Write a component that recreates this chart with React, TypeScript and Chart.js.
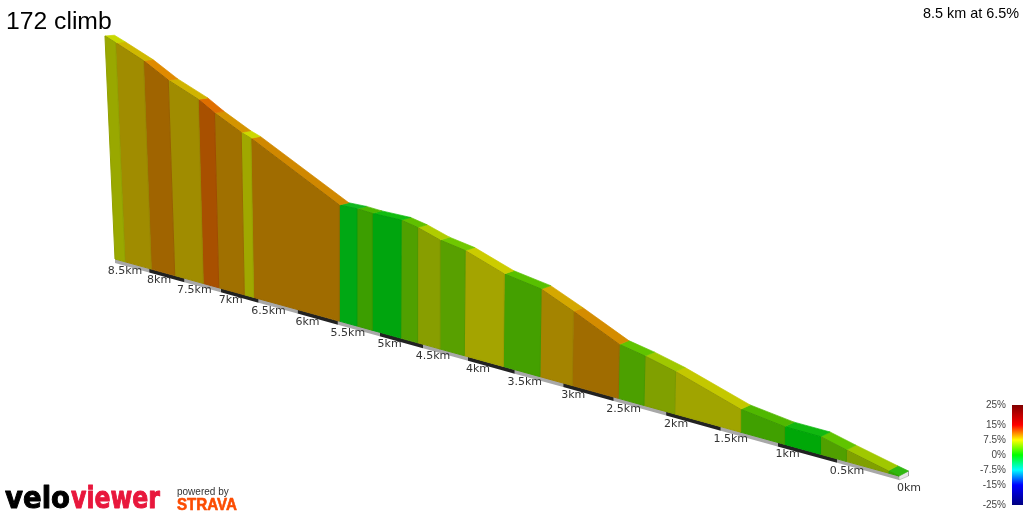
import React, { useEffect, useRef } from "react";
import { Chart, registerables } from "chart.js";

Chart.register(...registerables);

// Profile: distance from the finish (km) and elevation above the start (m)
const profileKm = [8.5, 8.352, 7.968, 7.635, 7.238, 7.028, 6.686, 6.563, 5.482, 5.272, 5.09, 4.755, 4.568, 4.317, 4.04, 3.62, 3.237, 2.908, 2.455, 2.208, 1.92, 1.328, 0.945, 0.641, 0.426, 0.087, 0];
const profileElevation = [554, 542, 509, 472, 439, 414, 380, 371, 260.5, 261, 258.5, 258, 250, 234, 224, 194, 181, 151.5, 108, 98, 83, 43.5, 33, 32.5, 21, 4, 0];
const frontColors = ["#99a800", "#a08c00", "#a06400", "#a08c00", "#a85000", "#a07000", "#a0a800", "#a06c00", "#00a814", "#3c9e00", "#00a50e", "#50a000", "#889e00", "#58a000", "#a4a400", "#44a000", "#a48400", "#a06c00", "#4ca000", "#80a000", "#a0a400", "#40a000", "#00a808", "#50a000", "#80a000", "#30a800"];
const topColors = ["#c8d800", "#cfb800", "#e08a00", "#d0b400", "#e06e00", "#d49400", "#cdd800", "#d08800", "#10b820", "#4cb800", "#10bc10", "#60c000", "#b0cc00", "#70c800", "#cccc00", "#58c000", "#d4a800", "#d48c00", "#60c400", "#a0c800", "#c4c800", "#50b800", "#10b810", "#60c400", "#a0c800", "#30b810"];

const tickKm = [8.5, 8, 7.5, 7, 6.5, 6, 5.5, 5, 4.5, 4, 3.5, 3, 2.5, 2, 1.5, 1, 0.5, 0];
const tickLabels = ["8.5km", "8km", "7.5km", "7km", "6.5km", "6km", "5.5km", "5km", "4.5km", "4km", "3.5km", "3km", "2.5km", "2km", "1.5km", "1km", "0.5km", "0km"];

const legendTicks = [25, 15, 7.5, 0, -7.5, -15, -25];
const legendLabels = ["25%", "15%", "7.5%", "0%", "-7.5%", "-15%", "-25%"];
const legendStops = ["#800000", "#ff0000", "#ffff00", "#00ff00", "#00ffff", "#0000ff", "#000080"];
const legendStopValues = [25, 15, 7.5, 0, -7.5, -15, -25];

const chartTitle = "172 climb";
const chartSummary = "8.5 km at 6.5%";

// Oblique perspective of the 3D ribbon
const DEPTH = 0.04396;
const BAND = 4;
const baseX = (km: number) => (899 - 87.18 * km) / (1 + DEPTH * km);
const baseY = (km: number) => (476 - 14.14 * km) / (1 + DEPTH * km);
const front = (km: number, m: number) => {
  const bx = baseX(km);
  const h = (m * 0.553) / (1 + DEPTH * km);
  const lean = (bx - 340) / (bx < 340 ? 5000 : 15000);
  return { x: bx + h * lean, y: baseY(km) - h };
};
const back = (km: number, m: number) => {
  const p = front(km, m);
  return { x: p.x + 9.5, y: p.y - (5 - 0.5 * km) };
};
const legendY = (v: number) => 455 - v * 2;
const shade = (hex: string, f: number) => {
  const n = parseInt(hex.slice(1), 16);
  return `rgb(${Math.round((n >> 16) * f)},${Math.round(((n >> 8) & 255) * f)},${Math.round((n & 255) * f)})`;
};

const poly = (points: { x: number; y: number }[], color: any, edge = "transparent", width = 0) => ({
  data: points,
  showLine: true,
  fill: "shape",
  backgroundColor: color,
  borderColor: edge,
  borderWidth: width,
  pointRadius: 0,
  tension: 0,
});

const textPlugin = {
  id: "chartText",
  afterDatasetsDraw(chart: any) {
    const { ctx, scales } = chart;
    const X = scales.x;
    const Y = scales.y;
    ctx.save();
    ctx.textBaseline = "alphabetic";
    ctx.fillStyle = "#000";
    ctx.textAlign = "left";
    ctx.font = '24.7px "Liberation Sans"';
    ctx.fillText(chartTitle, X.getPixelForValue(6), Y.getPixelForValue(29));
    ctx.textAlign = "right";
    ctx.font = '14.4px "Liberation Sans"';
    ctx.fillText(chartSummary, X.getPixelForValue(1019), Y.getPixelForValue(18));

    ctx.textAlign = "center";
    ctx.fillStyle = "#333";
    ctx.font = '11px "DejaVu Sans"';
    tickKm.forEach((km, i) => {
      ctx.fillText(tickLabels[i], X.getPixelForValue(baseX(km) + 10), Y.getPixelForValue(baseY(km) + 15));
    });

    ctx.textAlign = "right";
    ctx.fillStyle = "#444";
    ctx.font = '10px "Liberation Sans"';
    legendTicks.forEach((v, i) => {
      ctx.fillText(legendLabels[i], X.getPixelForValue(1006), Y.getPixelForValue(legendY(v) + 3));
    });

    ctx.textAlign = "left";
    ctx.lineJoin = "round";
    ctx.font = 'bold 30px "DejaVu Sans"';
    ctx.fillStyle = "#000";
    ctx.strokeStyle = "#000";
    ctx.lineWidth = 1;
    ctx.strokeText("velo", 5, 508, 65);
    ctx.fillText("velo", 5, 508, 65);
    ctx.fillStyle = "#e8173c";
    ctx.strokeStyle = "#e8173c";
    ctx.strokeText("viewer", 71, 508, 89);
    ctx.fillText("viewer", 71, 508, 89);
    ctx.fillStyle = "#333";
    ctx.font = '10px "Liberation Sans"';
    ctx.fillText("powered by", 177, 495);
    ctx.fillStyle = "#fc4c02";
    ctx.strokeStyle = "#fc4c02";
    ctx.lineWidth = 0.6;
    ctx.font = 'bold 16px "Liberation Sans"';
    ctx.strokeText("STRAVA", 177, 510, 60);
    ctx.fillText("STRAVA", 177, 510, 60);
    ctx.restore();
  },
};

export default function App() {
  const ref = useRef<HTMLCanvasElement>(null);
  useEffect(() => {
    document.body.style.margin = "0";
    const canvas = ref.current as HTMLCanvasElement;
    const datasets: any[] = [];
    frontColors.forEach((color, i) => {
      const [k1, k2, e1, e2] = [profileKm[i], profileKm[i + 1], profileElevation[i], profileElevation[i + 1]];
      datasets.push(
        poly(
          [{ x: baseX(k1), y: baseY(k1) }, { x: baseX(k2), y: baseY(k2) }, front(k2, e2), front(k1, e1), { x: baseX(k1), y: baseY(k1) }],
          color,
          shade(color, 0.95),
          1
        )
      );
      datasets.push(
        poly([front(k1, e1), front(k2, e2), back(k2, e2), back(k1, e1), front(k1, e1)], topColors[i], topColors[i], 0.7)
      );
    });
    // base band, alternating every half kilometre
    tickKm.slice(0, -1).forEach((km, i) => {
      const next = tickKm[i + 1];
      datasets.push(
        poly(
          [
            { x: baseX(km), y: baseY(km) },
            { x: baseX(next), y: baseY(next) },
            { x: baseX(next), y: baseY(next) + BAND },
            { x: baseX(km), y: baseY(km) + BAND },
          ],
          i % 2 === 0 ? "#a8a8a8" : "#222222"
        )
      );
    });
    // right end cap
    const capF = front(0, 0);
    const capB = back(0, 0);
    datasets.push(
      poly(
        [capF, capB, { x: capB.x, y: capB.y + BAND + 1 }, { x: capF.x, y: capF.y + BAND }, capF],
        "#e6e6e6",
        "rgba(140,140,140,0.7)",
        0.6
      )
    );
    // gradient legend (the y scale spans the canvas one to one)
    const first = legendY(legendTicks[0]);
    const last = legendY(legendTicks[legendTicks.length - 1]);
    const gradient = (canvas.getContext("2d") as CanvasRenderingContext2D).createLinearGradient(0, first, 0, last);
    legendStopValues.forEach((v, i) => gradient.addColorStop((25 - v) / 50, legendStops[i]));
    datasets.push(
      poly(
        [{ x: 1012, y: first }, { x: 1023, y: first }, { x: 1023, y: last }, { x: 1012, y: last }],
        gradient
      )
    );

    const chart = new Chart(canvas, {
      type: "scatter",
      data: { datasets },
      options: {
        animation: false,
        responsive: false,
        devicePixelRatio: 1,
        layout: { padding: 0 },
        scales: {
          x: { type: "linear", min: 0, max: 1024, display: false },
          y: { type: "linear", min: 0, max: 512, reverse: true, display: false },
        },
        plugins: { legend: { display: false }, tooltip: { enabled: false }, title: { display: false } },
      },
      plugins: [textPlugin],
    } as any);
    return () => chart.destroy();
  }, []);
  return (
    <div style={{ position: "absolute", left: 0, top: 0, width: 1024, height: 512, background: "#fff" }}>
      <canvas ref={ref} width={1024} height={512} style={{ display: "block" }} />
    </div>
  );
}
